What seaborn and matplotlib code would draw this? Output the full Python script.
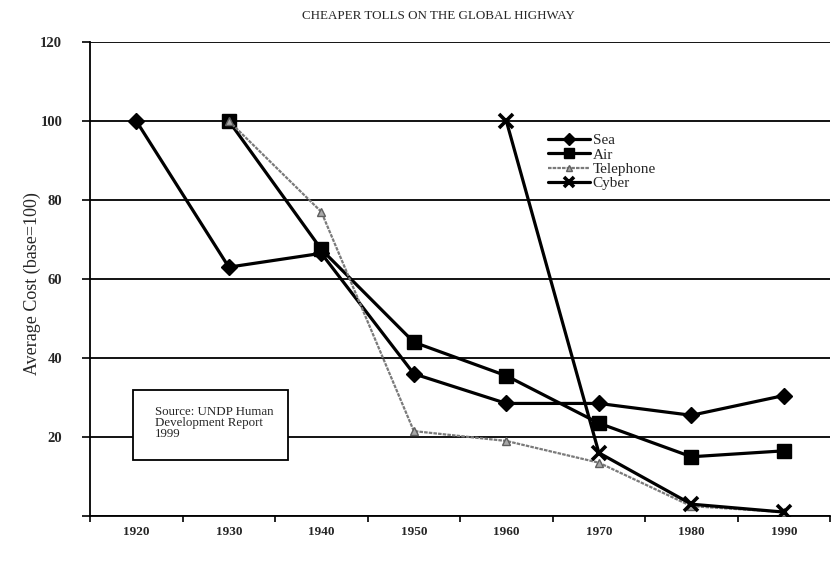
import matplotlib
matplotlib.use("Agg")
import matplotlib.pyplot as plt
import seaborn as sns
import pandas as pd
import numpy as np
from matplotlib.patches import Rectangle
from matplotlib.ticker import FixedLocator, NullFormatter

# Data (index, base = 100)
years = [1920, 1930, 1940, 1950, 1960, 1970, 1980, 1990]
sea = [100, 63, 66.5, 36, 28.5, 28.5, 25.5, 30.5]
air = [np.nan, 100, 67.5, 44, 35.5, 23.5, 15, 16.5]
telephone = [np.nan, 100, 77, 21.5, 19, 13.5, 2.5, 1]
cyber = [np.nan, np.nan, np.nan, np.nan, 100, 16, 3, 1]

y_ticks = [0, 20, 40, 60, 80, 100, 120]

sns.set_theme(style="white")
plt.rcParams["font.family"] = ["Liberation Serif", "DejaVu Serif"]

fig = plt.figure(figsize=(8.36, 5.67), dpi=100)
ax = fig.add_axes([0.1077, 0.0899, 0.8853, 0.8361])

styles = {
    "Sea": dict(color="black", lw=2.3, marker="D", ms=8, mfc="black", mec="black"),
    "Air": dict(color="black", lw=2.3, marker="s", ms=9.5, mfc="black", mec="black"),
    "Telephone": dict(color="#7a7a7a", lw=1.6, marker="^", ms=5.5,
                      mfc="#a8a8a8", mec="#5e5e5e", linestyle=(0, (1.6, 0.5))),
    "Cyber": dict(color="black", lw=2.3, marker="x", ms=10, mew=2.6, mec="black"),
}
series = {"Sea": sea, "Air": air, "Telephone": telephone, "Cyber": cyber}

for name, vals in series.items():
    df = pd.DataFrame({"year": years, "value": vals}).dropna()
    st = styles[name]
    sns.lineplot(data=df, x="year", y="value", ax=ax, label=name,
                 color=st["color"], linewidth=st["lw"], marker=st["marker"],
                 markersize=st["ms"], markerfacecolor=st.get("mfc", "black"),
                 markeredgecolor=st["mec"], markeredgewidth=st.get("mew", 1),
                 linestyle=st.get("linestyle", "-"), zorder=3)

ax.set_xlim(1915, 1995)
ax.set_ylim(0, 120)

# x labels centred on decades, tick marks between them
ax.set_xticks(years)
ax.set_xticklabels([str(y) for y in years], fontsize=9.5, fontweight="bold")
ax.xaxis.set_minor_locator(FixedLocator([1915 + 10 * i for i in range(9)]))
ax.xaxis.set_minor_formatter(NullFormatter())
ax.tick_params(axis="x", which="major", length=0, pad=7)
ax.tick_params(axis="x", which="minor", length=4, width=1.2, color="black",
               direction="out", bottom=True)

ax.set_yticks(y_ticks)
ax.set_yticklabels(["" if t == 0 else str(t) for t in y_ticks],
                   fontsize=10.5, fontweight="bold")
ax.tick_params(axis="y", length=6, width=1.2, color="black", direction="out",
               left=True, pad=14)

ax.grid(True, axis="y", color="black", linewidth=1.3)
ax.grid(False, axis="x")
ax.set_axisbelow(True)

for side in ["top", "right"]:
    ax.spines[side].set_visible(False)
for side in ["left", "bottom"]:
    ax.spines[side].set_color("black")
    ax.spines[side].set_linewidth(1.3)

ax.set_xlabel("")
ax.set_ylabel("Average Cost (base=100)", fontsize=13)
ax.yaxis.set_label_coords(-0.066, 0.49)
fig.text(0.525, 0.972, "CHEAPER TOLLS ON THE GLOBAL HIGHWAY",
         ha="center", va="center", fontsize=9.4)

leg = ax.legend(loc="upper left", bbox_to_anchor=(0.611, 0.82), frameon=False,
                fontsize=11, handlelength=2.7, handletextpad=0.2,
                labelspacing=0.05, borderaxespad=0, markerscale=0.75)

# source note box
ax.add_patch(Rectangle((0.058, 0.118), 0.209, 0.148, transform=ax.transAxes,
                       facecolor="white", edgecolor="black", linewidth=1.3,
                       zorder=4))
ax.text(0.088, 0.232, "Source: UNDP Human\nDevelopment Report\n1999",
        transform=ax.transAxes, fontsize=9.3, va="top", ha="left",
        linespacing=0.9, zorder=5)

fig.savefig("out.png", dpi=100)
